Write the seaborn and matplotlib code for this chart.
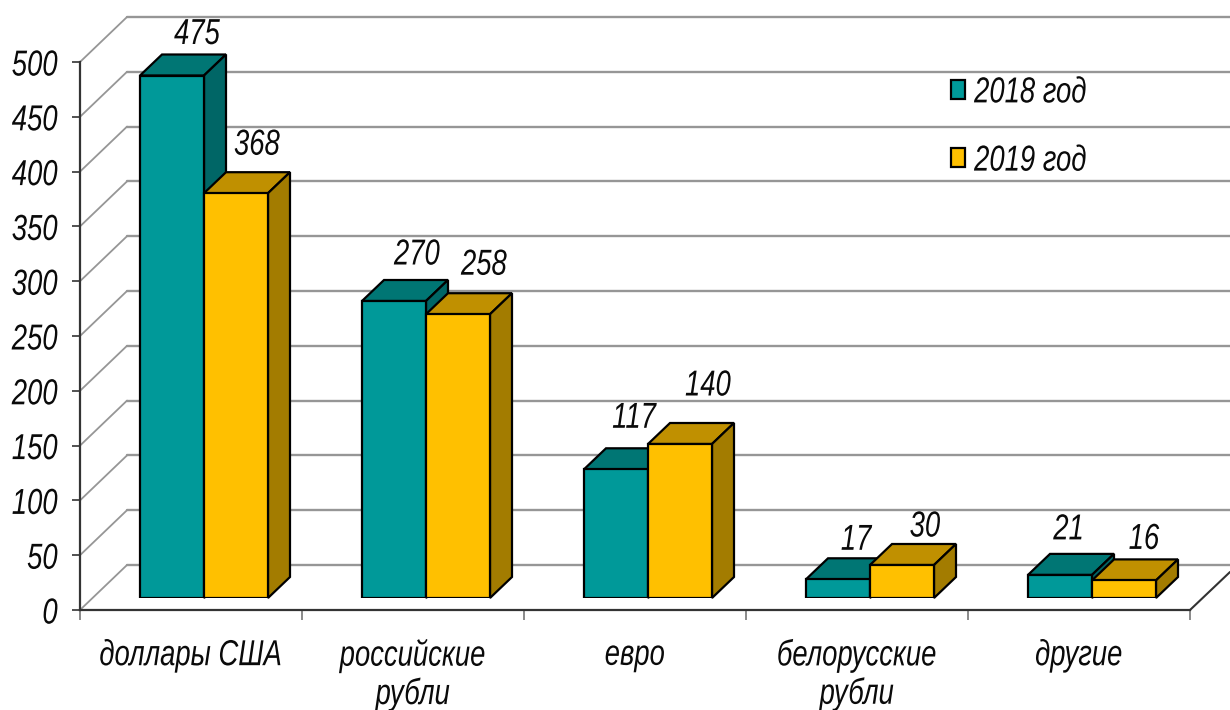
import numpy as np
import pandas as pd
import matplotlib
matplotlib.use("Agg")
import matplotlib.pyplot as plt
from matplotlib.patches import Polygon
from matplotlib.patheffects import AbstractPathEffect
from matplotlib.transforms import Affine2D
import seaborn as sns

categories = ["доллары США", "российские\nрубли", "евро", "белорусские\nрубли", "другие"]
values_2018 = [475, 270, 117, 17, 21]
values_2019 = [368, 258, 140, 30, 16]
years = ["2018 год", "2019 год"]
y_ticks = [0, 50, 100, 150, 200, 250, 300, 350, 400, 450, 500]

# label offsets from top of each bar, in px
nudge_2018 = [(25, 41), (23, 46), (18, 51), (18, 39), (9, 45)]
nudge_2019 = [(21, 48), (26, 49), (28, 58), (23, 38), (20, 41)]

W, H = 1230, 710
X0, Y0 = 80, 610      # front corner of the axes
AX_W, AX_H = 1110, 548
BAR_H = 550
BACK_DX, BACK_DY = 47, 45
BAR_DX, BAR_DY = 22, 21

sns.set_theme(style="white")
plt.rcParams["font.family"] = ["Liberation Sans", "DejaVu Sans"]
plt.rcParams["font.style"] = "italic"
FS = 26
TEXT = "#0a0a0a"


# no narrow font installed, so squeeze the glyphs when they are drawn
class Narrow(AbstractPathEffect):
    def __init__(self, sx=0.76, anchor="center", shift=0):
        super().__init__()
        self.sx = sx
        self.anchor = anchor
        self.shift = shift

    def draw_path(self, renderer, gc, tpath, affine, rgbFace=None):
        xs = tpath.vertices[:, 0]
        if len(xs) == 0:
            return
        if self.anchor == "center":
            cx = (xs.min() + xs.max()) / 2
        elif self.anchor == "right":
            cx = xs.max()
        else:
            cx = 0
        squeeze = Affine2D().translate(-cx, 0).scale(self.sx, 1).translate(cx, 0)
        renderer.draw_path(gc, tpath, squeeze + affine + Affine2D().translate(self.shift, 0), rgbFace)


df = pd.DataFrame({
    "category": categories * 2,
    "year": [years[0]] * 5 + [years[1]] * 5,
    "value": values_2018 + values_2019,
})

fig = plt.figure(figsize=(W / 100, H / 100), dpi=100)
ax = fig.add_axes([X0 / W, (H - Y0) / H, AX_W / W, AX_H / H])
ax_bars = fig.add_axes([(X0 + 13) / W, (H - Y0 + 12) / H, AX_W / W, BAR_H / H])
ax_bars.patch.set_visible(False)

# frame axes
px_x = 5 / AX_W
px_y = 500 / AX_H
ax.set_xlim(-0.5, 4.5)
ax.set_ylim(0, 500)
for s in ["top", "right"]:
    ax.spines[s].set_visible(False)
for s in ["left", "bottom"]:
    ax.spines[s].set_color("#333333")
    ax.spines[s].set_linewidth(1.6)
ax.set_yticks(y_ticks)
ax.set_xticks(np.arange(-0.5, 5, 1))
ax.set_xticklabels([])
ax.set_xticks(range(5), categories, minor=True)
ax.tick_params(axis="y", length=6, width=1.2, color="#333333", left=True, pad=6.4, labelsize=FS, labelcolor=TEXT)
ax.tick_params(axis="x", which="major", length=7, width=1.2, color="#777777", bottom=True)
ax.tick_params(axis="x", which="minor", length=0, pad=20, labelsize=FS, labelcolor=TEXT)
for lab in ax.get_xticklabels(minor=True):
    lab.set_linespacing(1.1)
    lab.set_path_effects([Narrow()])
for lab in ax.get_yticklabels():
    lab.set_path_effects([Narrow(anchor="right", shift=-5)])

# back wall lines
bx = -0.5 + BACK_DX * px_x
xend = -0.5 + (W - X0) * px_x
for v in y_ticks:
    by = v + BACK_DY * px_y
    ax.plot([-0.5, bx], [v, by], color="#969696", lw=1.3, clip_on=False, zorder=1, solid_capstyle="round")
    ax.plot([bx, xend], [by, by], color="#969696", lw=1.7, clip_on=False, zorder=1)
# floor edge on the right
ax.plot([4.5, xend], [0, 38 * px_y], color="#333333", lw=1.5, clip_on=False, zorder=1)

# bars
sns.barplot(data=df, x="category", y="value", hue="year", order=categories, hue_order=years,
            palette=["#009999", "#FFC000"], width=128 / 222, gap=0, saturation=1,
            edgecolor="black", linewidth=1.6, ax=ax_bars, zorder=4)
ax_bars.set_xlim(-0.5, 4.5)
ax_bars.set_ylim(0, 500)
handles, labels = ax_bars.get_legend_handles_labels()
ax_bars.set_axis_off()

dx = BAR_DX * px_x
dy = BAR_DY * 500 / BAR_H
top_colors = ["#007674", "#C09000"]
side_colors = ["#006666", "#A37C00"]
nudges = [nudge_2018, nudge_2019]
for k, cont in enumerate(ax_bars.containers):
    for bar, (nx, ny) in zip(cont, nudges[k]):
        x, w, h = bar.get_x(), bar.get_width(), bar.get_height()
        top = Polygon([(x, h), (x + dx, h + dy), (x + w + dx, h + dy), (x + w, h)],
                      facecolor=top_colors[k], edgecolor="black", lw=1.6, zorder=2 + k, clip_on=False)
        side = Polygon([(x + w, 0), (x + w + dx, dy), (x + w + dx, h + dy), (x + w, h)],
                       facecolor=side_colors[k], edgecolor="black", lw=1.6, zorder=2 + k, clip_on=False)
        ax_bars.add_patch(top)
        ax_bars.add_patch(side)
        ax_bars.annotate(f"{h:.0f}", (x + w / 2, h), xytext=(nx * 0.72, ny * 0.72),
                         textcoords="offset points", ha="center", va="center",
                         fontsize=FS, color=TEXT, annotation_clip=False, zorder=6,
                         path_effects=[Narrow()])

leg = ax_bars.legend(handles, labels, loc="center left", frameon=False, fontsize=FS,
                     bbox_to_anchor=((951 - X0 - 13) / AX_W, (598 - 127) / BAR_H),
                     handlelength=0.39, handleheight=0.44, handletextpad=0.25, labelspacing=0.92,
                     borderpad=0, borderaxespad=0, labelcolor=TEXT)
for t in leg.get_texts():
    t.set_path_effects([Narrow(anchor="left")])

fig.savefig("out.png", dpi=100, facecolor="white")
